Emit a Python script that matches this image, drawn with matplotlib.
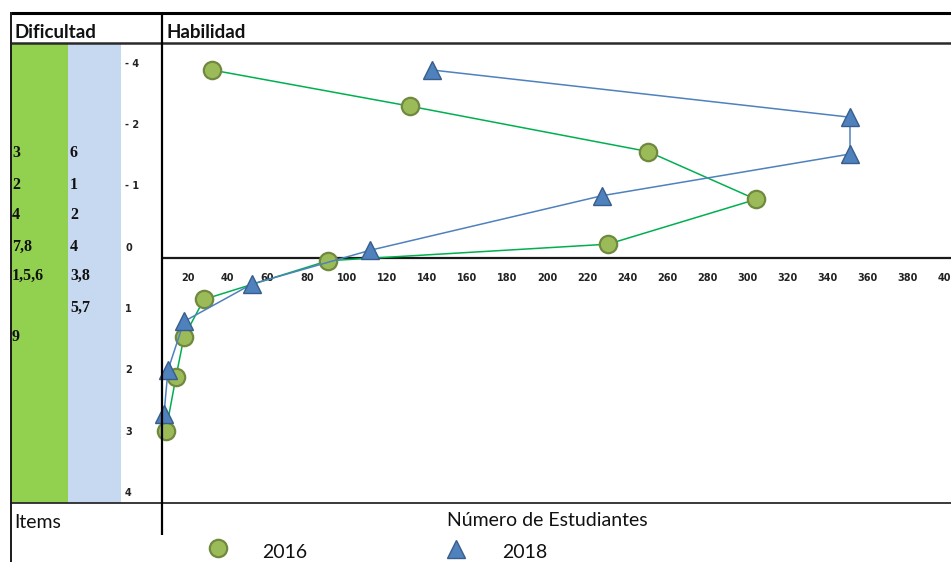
import matplotlib
matplotlib.use('Agg')
import matplotlib.pyplot as plt
from matplotlib.lines import Line2D
from matplotlib.patches import Rectangle
from matplotlib.transforms import ScaledTranslation, blended_transform_factory

# ---------------- data ----------------
x_2016 = [25, 124, 243, 297, 223, 83, 21, 11, 7, 2]
y_2016 = [-3.06, -2.47, -1.73, -0.95, -0.22, 0.05, 0.68, 1.29, 1.94, 2.82]
x_2018 = [135, 344, 344, 220, 104, 45, 11, 3, 1]
y_2018 = [-3.06, -2.29, -1.69, -1.01, -0.12, 0.43, 1.04, 1.83, 2.55]
x_ticks = list(range(20, 401, 20))
y_ticks = [-3, -2, -1, 0, 1, 2, 3, 4]
y_tick_labels = ['- 4', '- 2', '- 1', '0', '1', '2', '3', '4']
items_a = ['3', '2', '4', '7,8', '1,5,6', '', '9']
items_b = ['6', '1', '2', '4', '3,8', '5,7', '']
row_levels = [-1.71, -1.19, -0.70, -0.18, 0.30, 0.82, 1.29]
series_labels = ['2016', '2018']

# ---------------- layout ----------------
W, H = 951, 562
fig = plt.figure(figsize=(W / 100, H / 100), dpi=100)
fig.patch.set_facecolor('white')


def fx(px):
    return px / W


def fy(py):
    return 1 - py / H


def hline(y, x0, x1, lw, color):
    fig.add_artist(Line2D([fx(x0), fx(x1)], [fy(y), fy(y)], transform=fig.transFigure,
                          color=color, lw=lw, solid_capstyle='butt', zorder=5))


def vline(x, y0, y1, lw, color):
    fig.add_artist(Line2D([fx(x), fx(x)], [fy(y0), fy(y1)], transform=fig.transFigure,
                          color=color, lw=lw, solid_capstyle='butt', zorder=5))


# coloured columns
fig.add_artist(Rectangle((fx(11), fy(503)), fx(68) - fx(11), fy(43) - fy(503),
                         transform=fig.transFigure, facecolor='#92D050', edgecolor='none', zorder=0))
fig.add_artist(Rectangle((fx(68), fy(503)), fx(121) - fx(68), fy(43) - fy(503),
                         transform=fig.transFigure, facecolor='#C6D9F1', edgecolor='none', zorder=0))

# frame lines
hline(12.5, 9.5, 951, 2.2, '#000000')
hline(43, 9.5, 951, 1.8, '#2a2a2a')
hline(503, 9.5, 951, 1.3, '#2a2a2a')
vline(10.5, 11.5, 562, 1.4, '#1a1a1a')
vline(162, 11.5, 535, 1.6, '#000000')

# plot axes
ax = fig.add_axes([fx(162), fy(503), fx(951) - fx(162), fy(43) - fy(503)])
ax.set_xlim(0, 394.5)
ax.set_ylim(4, -3.5)
ax.axis('off')
ax.axhline(0, color='#1a1a1a', lw=1.6, zorder=1)

ax.plot(x_2016, y_2016, color='#00B050', lw=1.1, marker='o', ms=12.5,
        mfc='#9BBB59', mec='#71893F', mew=1.6, zorder=3, clip_on=False)
ax.plot(x_2018, y_2018, color='#4F81BD', lw=1.1, marker='^', ms=13,
        mfc='#4F81BD', mec='#385D8A', mew=1.0, zorder=4, clip_on=False)

tick_font = dict(fontsize=7, fontweight='bold', family='DejaVu Sans', color='#222222')
xoff = ax.transData + ScaledTranslation(-14.5 / 100, -20 / 100, fig.dpi_scale_trans)
for t in x_ticks:
    ax.text(t, 0, str(t), transform=xoff, ha='center', va='center', **tick_font)

yoff = ax.get_yaxis_transform() + ScaledTranslation(-37 / 100, 10 / 100, fig.dpi_scale_trans)
for v, lab in zip(y_ticks, y_tick_labels):
    ax.text(0, v, lab, transform=yoff, ha='left', va='center', **tick_font)

# item table
tbl = blended_transform_factory(fig.transFigure, ax.transData)
item_font = dict(fontsize=11.5, fontweight='bold', family='Liberation Serif', color='#111111')
for v, a, b in zip(row_levels, items_a, items_b):
    ax.text(fx(12), v, a, transform=tbl, ha='left', va='center', **item_font)
    ax.text(fx(70), v, b, transform=tbl, ha='left', va='center', **item_font)

# headers and footers
fig.text(fx(14), fy(37.5), 'Dificultad', fontsize=13.5, fontweight='bold', family='Lato',
         color='#111111', ha='left', va='baseline')
fig.text(fx(166), fy(37.5), 'Habilidad', fontsize=13.5, fontweight='bold', family='Lato',
         color='#111111', ha='left', va='baseline')
fig.text(fx(14), fy(528), 'Items', fontsize=14, family='Lato', color='#111111',
         ha='left', va='baseline')
fig.text(fx(447), fy(526), 'Número de Estudiantes', fontsize=14, family='Lato', color='#111111',
         ha='left', va='baseline')

# legend
fig.add_artist(Line2D([fx(218)], [fy(548)], transform=fig.transFigure, marker='o', ms=12.5,
                      mfc='#9BBB59', mec='#71893F', mew=1.6, lw=0))
fig.add_artist(Line2D([fx(456)], [fy(549)], transform=fig.transFigure, marker='^', ms=13,
                      mfc='#4F81BD', mec='#385D8A', mew=1.0, lw=0))
fig.text(fx(262), fy(558), series_labels[0], fontsize=14, family='Lato', color='#111111',
         ha='left', va='baseline')
fig.text(fx(502), fy(558), series_labels[1], fontsize=14, family='Lato', color='#111111',
         ha='left', va='baseline')

fig.savefig('out.png', dpi=100)
